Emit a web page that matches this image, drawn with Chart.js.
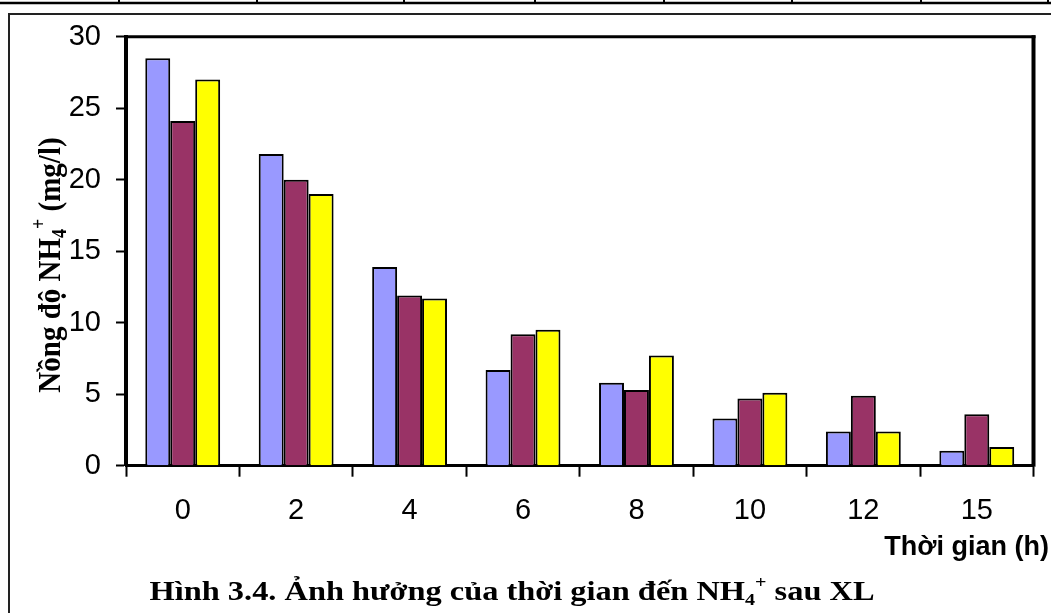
<!DOCTYPE html>
<html lang="vi">
<head>
<meta charset="utf-8">
<title>Ảnh hưởng của thời gian đến NH4+ sau XL</title>
<script src="https://cdn.jsdelivr.net/npm/chart.js@4.4.1/dist/chart.umd.min.js"></script>
<style>
  html, body { margin: 0; padding: 0; background: #fff; overflow: hidden; }
  canvas { display: block; }
</style>
</head>
<body>
<canvas id="chart" width="1051" height="613"></canvas>
<script>
// Sampling times (h)
const timeLabels = ['0', '2', '4', '6', '8', '10', '12', '15'];

// NH4+ concentration (mg/l) for the three runs
const seriesBlue   = [28.5, 21.8, 13.9, 6.7, 5.8, 3.3, 2.4, 1.05];
const seriesMaroon = [24.1, 20.0, 11.9, 9.2, 5.3, 4.7, 4.9, 3.6];
const seriesYellow = [27.0, 19.0, 11.7, 9.5, 7.7, 5.1, 2.4, 1.3];

// Value axis ticks
const yTickValues = [0, 5, 10, 15, 20, 25, 30];

// Text pieces (sub/superscripts marked per run)
const yTitleRuns = [
  { text: 'Nồng độ NH' }, { text: '4', sub: true }, { text: '+', sup: true }, { text: ' (mg/l)' }
];
const captionRuns = [
  { text: 'Hình 3.4. Ảnh hưởng của thời gian đến NH' }, { text: '4', sub: true },
  { text: '+', sup: true }, { text: ' sau XL' }
];
const xTitleText = 'Thời gian (h)';

const SERIF = "'Liberation Serif', 'Times New Roman', serif";
const SANS = "'Liberation Sans', Arial, sans-serif";

// Draws a line of bold text made of runs, centred on (x, y) baseline,
// optionally rotated and stretched (sx along the line, sy across it)
function drawRuns(ctx, runs, size, family, x, y, rotation, sx, sy) {
  ctx.save();
  ctx.translate(x, y);
  ctx.rotate(rotation);
  ctx.scale(sx, sy);
  const small = size * 0.62;
  const fontFor = r => `bold ${(r.sub || r.sup) ? small : size}px ${family}`;
  let total = 0;
  const widths = runs.map(r => { ctx.font = fontFor(r); const w = ctx.measureText(r.text).width; total += w; return w; });
  let cx = -total / 2;
  ctx.textAlign = 'left';
  ctx.textBaseline = 'alphabetic';
  ctx.fillStyle = '#000';
  runs.forEach((r, i) => {
    ctx.font = fontFor(r);
    const dy = r.sub ? size * 0.2 : (r.sup ? -size * 0.45 : 0);
    ctx.fillText(r.text, cx, dy);
    cx += widths[i];
  });
  ctx.restore();
}

// Page furniture: table rule above, figure frame, plot-area box, titles and caption
const decorPlugin = {
  id: 'decor',
  beforeDraw(chart) {
    const ctx = chart.ctx;
    ctx.save();
    ctx.fillStyle = '#fff';
    ctx.fillRect(0, 0, chart.width, chart.height);
    // rule of the table above the figure
    ctx.strokeStyle = '#000';
    ctx.lineWidth = 2.5;
    ctx.beginPath(); ctx.moveTo(0, 3); ctx.lineTo(chart.width, 3); ctx.stroke();
    ctx.lineWidth = 2;
    [119, 257, 404, 535, 664, 792, 921, 1048].forEach(x => {
      ctx.beginPath(); ctx.moveTo(x, 0); ctx.lineTo(x, 3); ctx.stroke();
    });
    // figure frame
    ctx.strokeStyle = '#222';
    ctx.lineWidth = 2;
    ctx.beginPath();
    ctx.moveTo(9, chart.height); ctx.lineTo(9, 14); ctx.lineTo(chart.width, 14);
    ctx.stroke();
    ctx.restore();
  },
  afterDraw(chart) {
    const ctx = chart.ctx;
    const a = chart.chartArea;
    ctx.save();
    ctx.strokeStyle = '#000';
    ctx.lineWidth = 3;
    ctx.beginPath(); ctx.moveTo(a.left, a.top); ctx.lineTo(a.right + 2, a.top); ctx.stroke();
    ctx.lineWidth = 4;
    ctx.beginPath(); ctx.moveTo(a.right, a.top - 1.5); ctx.lineTo(a.right, a.bottom + 1); ctx.stroke();
    ctx.restore();

    drawRuns(ctx, yTitleRuns, 29, SERIF, 60, 265, -Math.PI / 2, 1.0, 1.12);
    drawRuns(ctx, captionRuns, 27, SERIF, 512, 600, 0, 1.2, 1.0);

    ctx.save();
    ctx.font = `bold 27px ${SANS}`;
    ctx.fillStyle = '#000';
    ctx.textAlign = 'right';
    ctx.textBaseline = 'alphabetic';
    ctx.fillText(xTitleText, 1049, 555);
    ctx.restore();
  }
};

const barStyle = { borderColor: '#000', borderWidth: 2, barPercentage: 1.0, categoryPercentage: 0.66 };

new Chart(document.getElementById('chart'), {
  type: 'bar',
  data: {
    labels: timeLabels,
    datasets: [
      { label: 'Mẫu 1', data: seriesBlue, backgroundColor: '#9999FF', ...barStyle },
      { label: 'Mẫu 2', data: seriesMaroon, backgroundColor: '#993366', ...barStyle },
      { label: 'Mẫu 3', data: seriesYellow, backgroundColor: '#FFFF00', ...barStyle }
    ]
  },
  options: {
    responsive: false,
    animation: false,
    devicePixelRatio: 1,
    layout: { padding: { left: 0, right: 17.5, top: 36.7, bottom: 87.3 } },
    plugins: { legend: { display: false }, tooltip: { enabled: false }, title: { display: false } },
    scales: {
      x: {
        offset: true,
        grid: { offset: true, drawOnChartArea: false, drawTicks: true, tickLength: 11, tickWidth: 2, color: '#000' },
        border: { display: true, color: '#000', width: 3 },
        ticks: { color: '#000', padding: 17, font: { family: SANS, size: 29 } },
        afterFit(scale) { scale.height = 60; }
      },
      y: {
        min: 0,
        max: 30,
        afterBuildTicks(scale) { scale.ticks = yTickValues.map(v => ({ value: v })); },
        grid: { drawOnChartArea: false, drawTicks: true, tickLength: 10, tickWidth: 2, color: '#000' },
        border: { display: true, color: '#000', width: 4 },
        ticks: { color: '#000', padding: 15, font: { family: SANS, size: 29 } },
        afterFit(scale) { scale.width = 126; }
      }
    }
  },
  plugins: [decorPlugin]
});
</script>
</body>
</html>
